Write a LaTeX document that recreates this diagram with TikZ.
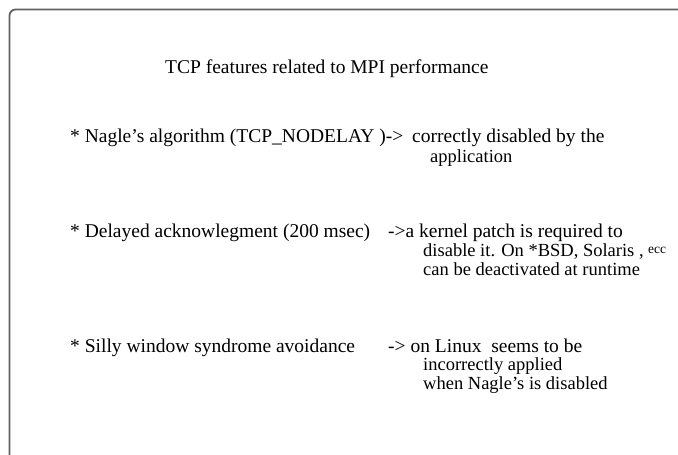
\documentclass[tikz,border=0pt]{standalone}
\usepackage{fontspec}
\setmainfont{Liberation Serif}
\begin{document}
\begin{tikzpicture}[x=1pt,y=-1pt,
  txt/.style={anchor=base west,inner sep=0pt,font=\fontsize{19.5}{22}\selectfont},
  cont/.style={anchor=base west,inner sep=0pt,font=\fontsize{18.5}{21}\selectfont},
  small/.style={anchor=base west,inner sep=0pt,font=\fontsize{13.5}{16}\selectfont},
  frame/.style={draw=black!62,line width=1.8pt,rounded corners=6pt}]
\useasboundingbox (0,0) rectangle (678,455);
\draw[frame] (9.5,9.5) rectangle (720,480);
\node[txt] (title) at (165,73) {TCP features related to MPI performance};
\node[txt] (n1) at (70,142) {* Nagle’s algorithm (TCP\_NODELAY )->};
\node[txt] (n1b) at (412,142) {correctly disabled by the};
\node[cont] (n1c) at (430,162) {application};
\node[txt] (d1) at (70,237) {* Delayed acknowlegment (200 msec)};
\node[txt] (d1a) at (388,237) {->a kernel patch is required to};
\node[cont] (d1b) at (423,256) {disable it. On *BSD, Solaris ,};
\node[small] (d1e) at ([xshift=4pt,yshift=3pt]d1b.base east) {ecc};
\node[cont] (d1c) at (423,275) {can be deactivated at runtime};
\node[txt] (s1) at (70,352) {* Silly window syndrome avoidance};
\node[txt] (s1a) at (388,352) {-> on Linux\ \ seems to be};
\node[cont] (s1c) at (423,370) {incorrectly applied};
\node[cont] (s1d) at (423,389) {when Nagle’s is disabled};
\end{tikzpicture}
\end{document}
